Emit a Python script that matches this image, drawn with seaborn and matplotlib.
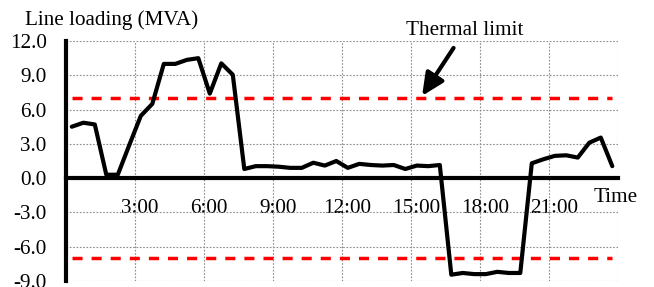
import matplotlib
matplotlib.use("Agg")
import matplotlib.pyplot as plt
import matplotlib.transforms as mtransforms
import matplotlib.ticker as mticker
import numpy as np
import seaborn as sns

# Half-hourly samples, taken at the middle of each interval (hours)
hours = np.arange(0.25, 24.0, 0.5)

# Line loading (MVA)
loading = [
    4.5, 4.85, 4.7, 0.3, 0.3, 2.9, 5.45, 6.5, 10.0, 10.0, 10.35, 10.5,
    7.4, 10.05, 9.05, 0.8, 1.05, 1.05, 1.0, 0.9, 0.9, 1.35, 1.1, 1.5,
    0.9, 1.25, 1.15, 1.1, 1.15, 0.8, 1.1, 1.05, 1.15, -8.45, -8.3, -8.4,
    -8.4, -8.2, -8.3, -8.3, 1.3, 1.65, 1.95, 2.0, 1.8, 3.1, 3.55, 1.05,
]

thermal_limit = 7.0

x_ticks = [0, 3, 6, 9, 12, 15, 18, 21, 24]
x_labels = ["", "3:00", "6:00", "9:00", "12:00", "15:00", "18:00", "21:00", ""]
y_ticks = [-9, -6, -3, 0, 3, 6, 9, 12]

sns.set_style("white")
plt.rcParams["font.family"] = ["Liberation Serif", "DejaVu Serif"]
plt.rcParams["font.size"] = 15.2
plt.rcParams["text.color"] = "black"
plt.rcParams["xtick.color"] = "black"
plt.rcParams["ytick.color"] = "black"
plt.rcParams["axes.edgecolor"] = "black"

fig, ax = plt.subplots(figsize=(6.54, 2.87), dpi=100)
fig.subplots_adjust(left=0.101, right=0.945, bottom=0.021, top=0.857)

# Thermal limits (both directions)
for sign in (1, -1):
    sns.lineplot(
        x=hours,
        y=[sign * thermal_limit] * len(hours),
        color="#ff0000",
        linewidth=2.5,
        linestyle=(0, (2.9, 2.6)),
        ax=ax,
    )

# Loading curve
sns.lineplot(x=hours, y=loading, color="black", linewidth=3.0, ax=ax, zorder=5)

ax.set_xlim(0, 24)
ax.set_ylim(-9, 12)
ax.set_xticks(x_ticks)
ax.set_xticklabels(x_labels)
ax.set_yticks(y_ticks)
ax.yaxis.set_major_formatter(mticker.FormatStrFormatter("%.1f"))
ax.set_xlabel("")
ax.set_ylabel("")

ax.set_axisbelow(True)
ax.grid(True, color="#8c8c8c", linestyle=(0, (1.5, 1.5)), linewidth=0.8)

for side in ["top", "right"]:
    ax.spines[side].set_visible(False)
ax.spines["bottom"].set_position(("data", 0))
ax.spines["bottom"].set_linewidth(3)
ax.spines["left"].set_linewidth(3)
ax.spines["bottom"].set_zorder(4)

ax.tick_params(axis="x", direction="out", length=4, width=2.5, pad=11, labelsize=15.2)
ax.tick_params(axis="y", direction="out", length=4, width=2.5, pad=10, labelsize=15.2)

# Excel-style labels sit a bit to the right of their tick
shift = mtransforms.ScaledTranslation(5 / 100, 0, fig.dpi_scale_trans)
for lbl in ax.get_xticklabels():
    lbl.set_transform(lbl.get_transform() + shift)

# Titles
fig.text(25 / 654, 1 - 20 / 287, "Line loading (MVA)", ha="left", va="center")
fig.text(594 / 654, 1 - 197 / 287, "Time", ha="left", va="center")

# Thermal limit annotation
ax.annotate(
    "",
    xy=(15.48, 7.2),
    xytext=(16.85, 11.4),
    arrowprops=dict(arrowstyle="-|>,head_length=0.75,head_width=0.35",
                    color="black", lw=3, mutation_scale=18,
                    shrinkA=0, shrinkB=0),
    annotation_clip=False,
)
ax.text(17.35, 12.9, "Thermal limit", ha="center", va="center", clip_on=False)

plt.savefig("out.png", dpi=100)
